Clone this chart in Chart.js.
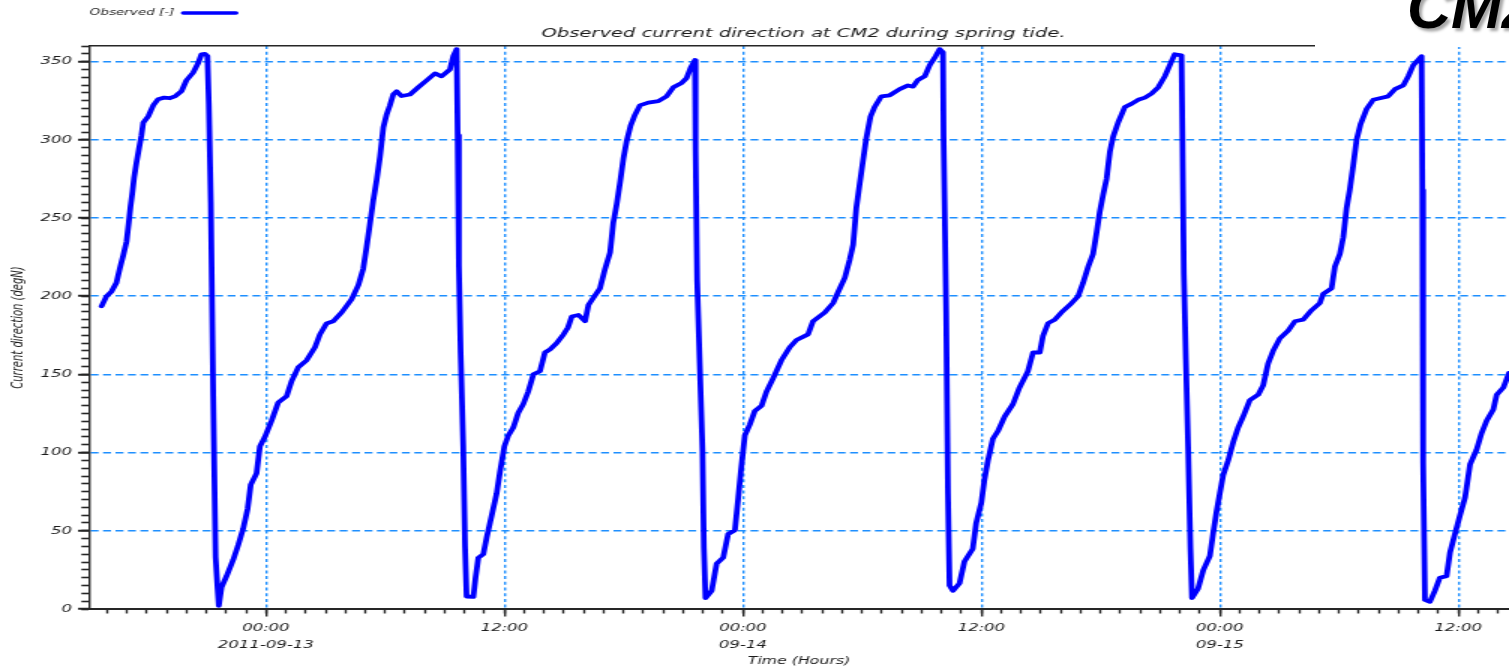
<!DOCTYPE html>
<html>
<head>
<meta charset="utf-8">
<title>Observed current direction at CM2</title>
<script src="https://cdn.jsdelivr.net/npm/chart.js@4.4.1/dist/chart.umd.min.js"></script>
<style>
  html, body { margin: 0; padding: 0; background: #fff; overflow: hidden; }
  #wrap { position: relative; width: 1509px; height: 668px; overflow: hidden; background: #fff; }
  /* the plot is laid out narrow and widened horizontally, like the exported figure */
  #c { position: absolute; left: 0; top: 0; transform: scaleX(1.5); transform-origin: 0 0; }
  #slideTitle { position: absolute; left: 1315px; top: 0; width: 194px; height: 47px; background: #fff; overflow: hidden; }
  #slideTitle span { position: absolute; left: 92px; top: -23px; font: italic bold 61px/60px "Liberation Sans", Arial, sans-serif;
    color: #000; text-shadow: 3px 3px 3px rgba(0,0,0,0.35); white-space: nowrap; }
</style>
</head>
<body>
<div id="wrap">
  <canvas id="c" width="1006" height="668"></canvas>
  <div id="slideTitle"><span>CM2</span></div>
</div>
<script>
// ---- text ----
const seriesLabel = 'Observed [-]';
const chartTitle = 'Observed current direction at CM2 during spring tide.';
const yTitle = 'Current direction (degN)';
const xTitle = 'Time (Hours)';

// ---- axis ticks (hours counted from 2011-09-13 00:00) ----
const xTickHours = [0, 12, 24, 36, 48, 60];
const xTickTimes = ['00:00', '12:00', '00:00', '12:00', '00:00', '12:00'];
const xTickDates = ['2011-09-13', '', '09-14', '', '09-15', ''];
const yTickValues = [0, 50, 100, 150, 200, 250, 300, 350];

// ---- observed series: time in hours, direction in degN ----
const hours = [
  -8.27, -8.02, -7.77, -7.52, -7.35, -7.18, -7.01, -6.90, -6.81, -6.71,
  -6.63, -6.51, -6.39, -6.26, -6.17, -5.92, -5.67, -5.42, -5.12, -4.83,
  -4.55, -4.25, -4.00, -3.66, -3.41, -3.24, -3.07, -2.94,
  -2.87, -2.77, -2.65, -2.53, -2.43, -2.37,
  -2.23, -1.98, -1.64, -1.39, -1.14, -0.92, -0.76, -0.47, -0.30, -0.05,
  0.29, 0.62, 1.04, 1.29, 1.63, 2.05, 2.47, 2.72, 3.05, 3.39,
  3.81, 4.31, 4.65, 4.90, 5.07, 5.23, 5.40, 5.57, 5.74, 5.91,
  6.07, 6.24, 6.41, 6.58, 6.83, 7.25, 7.67, 8.09, 8.51, 8.84,
  9.26, 9.43, 9.60,
  9.65, 9.71, 9.80, 9.93, 10.02, 10.10,
  10.44, 10.55, 10.69, 10.94, 11.11, 11.36, 11.61, 11.78, 12.00, 12.20,
  12.45, 12.70, 12.95, 13.20, 13.46, 13.79, 14.04, 14.30, 14.63, 14.97,
  15.20, 15.39, 15.73, 16.06, 16.23, 16.48, 16.81, 17.07, 17.32, 17.48,
  17.65, 17.82, 17.99, 18.15, 18.35, 18.57, 18.82, 19.24, 19.75, 20.16,
  20.50, 20.92, 21.17, 21.39, 21.59,
  21.62, 21.70, 21.83, 21.97, 22.04, 22.12,
  22.43, 22.68, 23.01, 23.26, 23.60, 23.77, 23.90, 24.10, 24.35, 24.60,
  24.94, 25.19, 25.52, 25.94, 26.36, 26.70, 27.28, 27.53, 28.12, 28.54,
  28.79, 29.13, 29.38, 29.55, 29.71, 29.88, 30.05, 30.21, 30.42, 30.63,
  30.97, 31.39, 31.89, 32.31, 32.56, 32.81, 33.15, 33.40, 33.70, 33.90,
  34.07,
  34.10, 34.23, 34.32, 34.40,
  34.57, 34.90, 35.15, 35.57, 35.74, 36.00, 36.16, 36.33, 36.58, 36.83,
  37.17, 37.59, 37.92, 38.34, 38.60, 38.94, 39.10, 39.36, 39.69, 40.03,
  40.45, 40.87, 41.12, 41.38, 41.62, 41.79, 41.96, 42.13, 42.30, 42.47,
  42.63, 42.88, 43.22, 43.55, 43.89, 44.23, 44.56, 44.90, 45.23, 45.48,
  45.73, 46.07,
  46.12, 46.19, 46.29, 46.41, 46.52, 46.60,
  46.90, 47.16, 47.50, 47.66, 47.83, 48.00, 48.17, 48.42, 48.67, 48.92,
  49.17, 49.51, 49.93, 50.18, 50.43, 50.68, 51.02, 51.44, 51.78, 52.19,
  52.61, 53.03, 53.20, 53.62, 53.79, 54.04, 54.21, 54.38, 54.54, 54.71,
  54.88, 55.08, 55.38, 55.72, 56.05, 56.47, 56.81, 57.23, 57.48, 57.73,
  58.15,
  58.19, 58.23, 58.32,
  58.57, 58.82, 59.07, 59.41, 59.58, 59.83, 60.08, 60.34, 60.59, 60.92,
  61.17, 61.43, 61.76, 61.93, 62.27, 62.55
];
const direction = [
  193.6, 200, 203, 208.6, 217.7, 226, 235, 247, 257.5, 267,
  276, 285.6, 294, 303, 311, 315, 322, 326, 327, 326.6,
  328, 331, 338, 343, 349, 354.7, 355, 353.5,
  323, 260, 136, 33, 13, 2,
  14, 21, 31.6, 41, 51.5, 64, 79.6, 86.7, 104, 110,
  120.5, 132, 136, 145.6, 154.6, 159, 167.4, 175.6, 182.6, 184,
  189.6, 198, 207, 217.7, 231.7, 245.8, 261, 274, 289, 308,
  316, 322, 329, 331, 328, 329, 333.6, 338, 342.5, 340.6,
  345, 353.5, 358,
  303, 220, 164, 104, 40, 8,
  7.7, 20, 32.8, 35, 45.7, 59.7, 73.8, 87.8, 104, 111,
  116, 125.5, 131, 139, 150, 152, 164, 166, 170, 175.5,
  180, 187, 188, 184, 194.4, 199, 205, 217.7, 228, 247,
  258.7, 272.7, 288, 299, 309, 316, 322, 323.8, 324.7, 327.8,
  333.6, 336.4, 339.5, 346.5, 351,
  294, 210, 157, 101, 39, 7,
  11.7, 29, 32.8, 48, 50.4, 71.4, 88, 111, 118, 126.6,
  130, 139, 147.5, 159, 167.4, 172, 175.6, 184, 189.6, 195.6,
  202.6, 211.8, 223.6, 233, 256.6, 272, 287, 301, 314.8, 321,
  327.8, 328.5, 332.4, 334.8, 334, 338.3, 340.6, 347.7, 353.5, 358,
  356,
  302, 190, 74, 15,
  11.7, 16.4, 30.4, 38.6, 55, 68, 83, 94.8, 108.9, 113.6,
  123, 131, 141.6, 152, 164, 164, 174.6, 182.8, 185, 189.6,
  194.4, 200, 208.6, 219, 227, 240, 254, 265, 275, 292.6,
  302, 311, 321, 323, 325.6, 327, 329.5, 333.6, 340.6, 347.7,
  354.7, 354,
  300, 214, 160, 101, 38.6, 7,
  12.9, 24.6, 34, 48, 62, 74, 85.7, 95, 106.6, 116,
  123, 133.6, 137, 143, 157, 165, 173, 178, 184, 185,
  191, 195.6, 201.5, 205, 219, 227, 237.7, 256.6, 268.3, 283.5,
  300, 310, 319.6, 325.6, 326.6, 327.8, 332.4, 334.8, 340.6, 347.7,
  353.5,
  268, 93.7, 5.8,
  4.6, 11.7, 20, 21, 36, 48, 59.7, 71.4, 92.5, 101.9,
  112.4, 120.5, 127.6, 137, 141.6, 151
];

// ---- appearance ----
const SX = 1.5;                 // horizontal widening applied by CSS
const X_MIN = -8.9, X_MAX = 62.55;
const Y_MIN = 0, Y_MAX = 360;
const FONT = '"DejaVu Sans", Verdana, sans-serif';
const TEXT = '#1c1c1c';
const AXIS = '#262626';
const GRID = '#1e8fff';
const LINE = '#0000ff';

const points = hours.map((h, i) => ({ x: h, y: direction[i] }));

// legend entry (text then line sample) and the plot title
const headerPlugin = {
  id: 'header',
  afterDraw(chart) {
    const { ctx, chartArea } = chart;
    const ds = chart.data.datasets[0];
    ctx.save();
    ctx.fillStyle = TEXT;
    ctx.textBaseline = 'middle';
    ctx.textAlign = 'left';
    ctx.font = `italic 9px ${FONT}`;
    const lx = chartArea.left + 0.5;
    ctx.fillText(ds.label, lx, 13);
    const sampleStart = lx + ctx.measureText(ds.label).width + 6;
    ctx.strokeStyle = ds.borderColor;
    ctx.lineWidth = 3.5;
    ctx.lineCap = 'round';
    ctx.beginPath();
    ctx.moveTo(sampleStart, 13);
    ctx.lineTo(sampleStart + 35, 13);
    ctx.stroke();
    ctx.font = `italic 13px ${FONT}`;
    ctx.textAlign = 'center';
    ctx.fillText(chartTitle, (chartArea.left + chartArea.right) / 2 + 3, 34);
    ctx.restore();
  }
};

new Chart(document.getElementById('c'), {
  type: 'line',
  data: {
    datasets: [{
      label: seriesLabel,
      data: points,
      xAxisID: 'x',
      yAxisID: 'y',
      borderColor: LINE,
      backgroundColor: LINE,
      borderWidth: 3.8,
      borderJoinStyle: 'round',
      borderCapStyle: 'round',
      pointRadius: 0,
      tension: 0,
      fill: false
    }]
  },
  options: {
    responsive: false,
    devicePixelRatio: 1,
    animation: false,
    events: [],
    layout: { padding: { top: 46, left: 0, right: 0, bottom: 0 } },
    plugins: { legend: { display: false }, title: { display: false }, tooltip: { enabled: false } },
    scales: {
      x: {
        type: 'linear', position: 'bottom', weight: 1,
        min: X_MIN, max: X_MAX,
        afterBuildTicks: s => { s.ticks = xTickHours.map(v => ({ value: v })); },
        afterFit: s => { s.height = 59; },
        ticks: {
          autoSkip: false, maxRotation: 0, padding: 3, color: TEXT,
          font: { family: FONT, size: 11, style: 'italic', lineHeight: 1.55 },
          callback: v => {
            const i = xTickHours.indexOf(v);
            return xTickDates[i] ? [xTickTimes[i], xTickDates[i]] : xTickTimes[i];
          }
        },
        grid: { color: GRID, lineWidth: 1.4, tickLength: 7.5, tickColor: AXIS, tickWidth: 1.4 },
        border: { display: true, color: AXIS, width: 2, dash: [3, 2.7] },
        title: {
          display: true, text: xTitle, color: TEXT,
          font: { family: FONT, size: 10.5, style: 'italic', lineHeight: 1.2 },
          padding: { top: 0, bottom: 0 }
        }
      },
      xMinor: {
        type: 'linear', position: 'bottom', weight: 0,
        min: X_MIN, max: X_MAX,
        afterBuildTicks: s => {
          const t = [];
          for (let h = Math.ceil(X_MIN); h <= X_MAX; h++) t.push({ value: h });
          s.ticks = t;
        },
        afterFit: s => { s.height = 0; },
        ticks: { display: false },
        grid: { drawOnChartArea: false, tickLength: 4.5, tickColor: AXIS, tickWidth: 1.4 },
        border: { display: false }
      },
      xTop: {
        type: 'linear', position: 'top',
        min: X_MIN, max: X_MAX,
        afterFit: s => { s.height = 0; },
        ticks: { display: false },
        grid: { display: false },
        border: { display: true, color: AXIS, width: 1.5 }
      },
      y: {
        type: 'linear', position: 'left', weight: 1,
        min: Y_MIN, max: Y_MAX,
        afterBuildTicks: s => { s.ticks = yTickValues.map(v => ({ value: v })); },
        afterFit: s => { s.width = 89 / SX; },
        ticks: { padding: 4, color: TEXT, font: { family: FONT, size: 11, style: 'italic' } },
        grid: {
          color: c => (c.tick && c.tick.value === Y_MIN ? 'rgba(0,0,0,0)' : GRID),
          lineWidth: 1.5, tickLength: 7.3, tickColor: AXIS, tickWidth: 2
        },
        border: { display: true, color: AXIS, width: 1.4, dash: [5.3, 3] },
        title: {
          display: true, text: yTitle, color: TEXT,
          font: { family: FONT, size: 10, style: 'italic', lineHeight: 1.2 },
          padding: { top: 6, bottom: 0 }
        }
      },
      yMinor: {
        type: 'linear', position: 'left', weight: 0,
        min: Y_MIN, max: Y_MAX,
        afterBuildTicks: s => {
          const t = [];
          for (let v = Y_MIN; v <= Y_MAX; v += 5) t.push({ value: v });
          s.ticks = t;
        },
        afterFit: s => { s.width = 0; },
        ticks: { display: false },
        grid: { drawOnChartArea: false, tickLength: 5.1, tickColor: AXIS, tickWidth: 1.6 },
        border: { display: false }
      }
    }
  },
  plugins: [headerPlugin]
});
</script>
</body>
</html>
